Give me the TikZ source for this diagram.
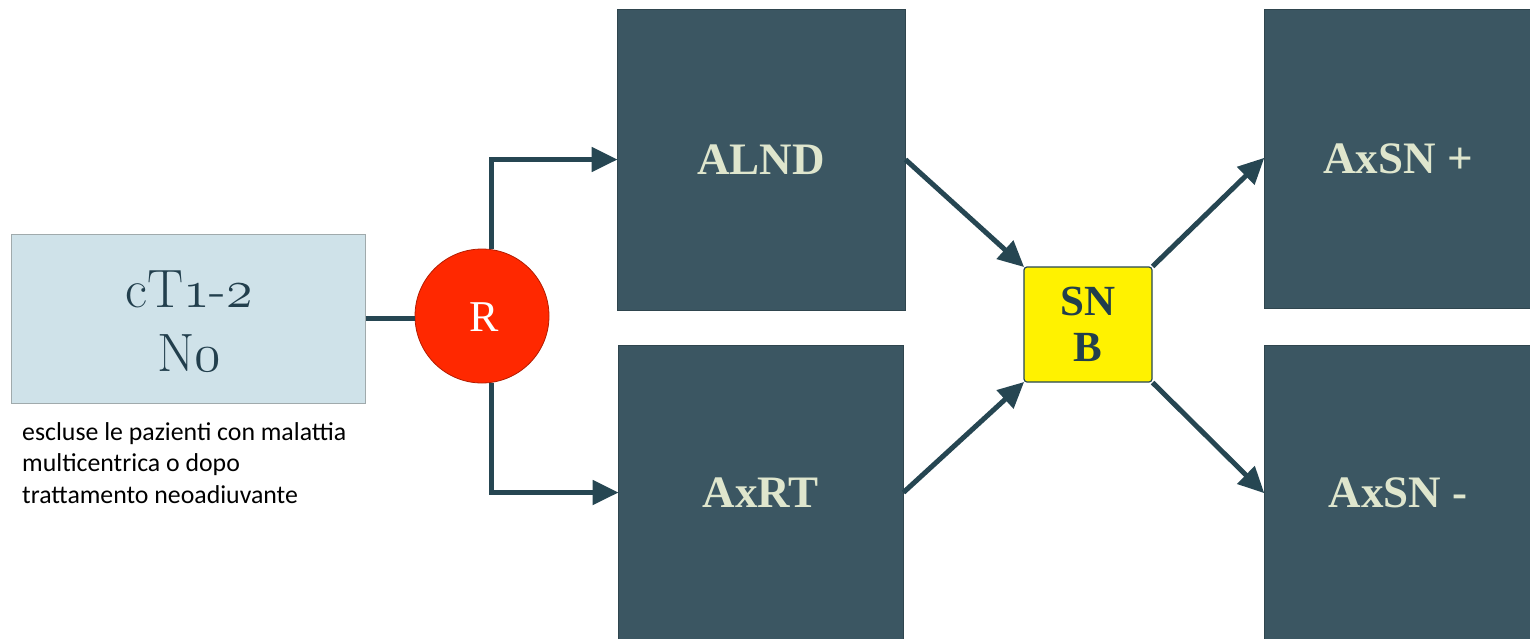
\RequirePackage{fix-cm}
\documentclass[tikz,border=0pt]{standalone}
\usepackage{fontspec}
\newfontfamily\calib{Carlito}
\newfontfamily\lserif{Liberation Serif}
\usetikzlibrary{arrows.meta,calc}
\definecolor{darkbox}{RGB}{59,86,98}
\definecolor{conncol}{RGB}{38,70,82}
\definecolor{cream}{RGB}{223,230,205}
\definecolor{lightbox}{RGB}{207,226,233}
\definecolor{lightborder}{RGB}{160,170,172}
\definecolor{redc}{RGB}{255,40,0}
\definecolor{inktext}{RGB}{34,63,77}
\newcommand{\osd}[1]{$\mathnormal{#1}$}
\tikzset{
  darkbox/.style={rectangle, fill=darkbox, draw=darkbox!80!black, line width=0.8pt, text=cream, font=\lserif\fontsize{45}{50}\selectfont\bfseries, inner sep=0pt},
  conn/.style={draw=conncol, line width=5pt},
  arr/.style={conn, -{Triangle[length=26pt,width=24pt]}, shorten >=-1pt}
}
\begin{document}
\begin{tikzpicture}[x=1pt,y=-1pt]
\useasboundingbox (0,0) rectangle (1530,638);
% left box
\node[rectangle, fill=lightbox, draw=lightborder, line width=1pt, minimum width=354pt, minimum height=169pt, inner sep=0pt] (start) at (188,318.5) {};
\node[anchor=base, text=inktext, font=\fontsize{54}{64}\selectfont, inner sep=0pt] (l1) at (189,307) {cT\osd{1}-\osd{2}};
\node[anchor=base, text=inktext, font=\fontsize{54}{64}\selectfont, inner sep=0pt] (l2) at (189,371) {N\osd{0}};
\node[anchor=base west, align=left, font=\calib\fontsize{25.8}{31.5}\selectfont, inner sep=0pt] (note) at (22,503) {escluse le pazienti con malattia\\multicentrica o dopo\\trattamento neoadiuvante};
% R circle
\node[circle, fill=redc, draw=redc!70!black, line width=0.8pt, minimum size=134pt, inner sep=0pt] (R) at (482,316) {};
\node[anchor=base, text=white, font=\lserif\fontsize{44}{48}\selectfont, inner sep=0pt] (rl) at (484,331) {R};
% dark boxes
\node[darkbox, minimum width=288pt, minimum height=301pt] (alnd) at (761,159.5) {ALND};
\node[darkbox, minimum width=285pt, minimum height=295pt] (axrt) at (760.5,492.5) {AxRT};
\node[darkbox, minimum width=268pt, minimum height=299pt] (axp) at (1398,158.5) {AxSN +};
\node[darkbox, minimum width=268pt, minimum height=295pt] (axm) at (1398,492.5) {AxSN -};
% SNB
\node[rectangle, rounded corners=3pt, fill=yellow, draw=conncol, line width=1.2pt, minimum width=128pt, minimum height=115pt, inner sep=0pt, text=inktext, align=center, font=\lserif\fontsize{43}{46}\selectfont\bfseries] (snb) at (1088,324.5) {SN\\B};
% connectors
\draw[conn] (start.east) -- (start.east -| R.west);
\draw[arr] (R.82) |- (alnd.west);
\draw[arr] (R.-82) |- (axrt.west);
\draw[arr] (alnd.east) -- (snb.north west);
\draw[arr] (axrt.east) -- (snb.south west);
\draw[arr] (snb.north east) -- (axp.west);
\draw[arr] (snb.south east) -- (axm.west);
\end{tikzpicture}
\end{document}
